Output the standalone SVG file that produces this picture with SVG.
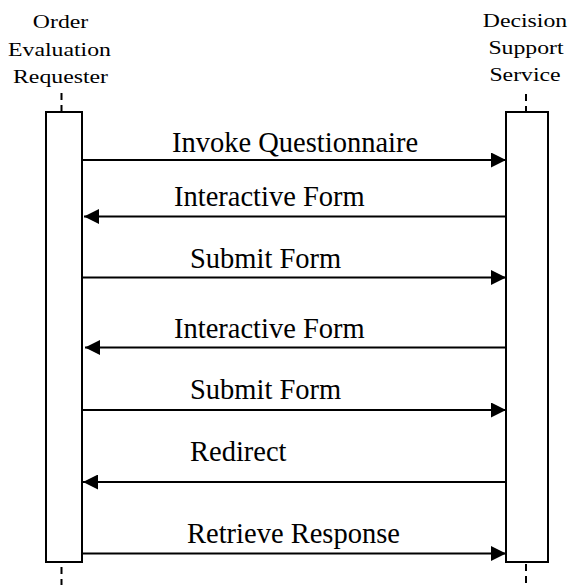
<svg xmlns="http://www.w3.org/2000/svg" width="568" height="585" viewBox="0 0 568 585">
<style>
.lbl{font-family:'Liberation Serif','Times New Roman',serif;font-size:19px;fill:#000;text-anchor:middle}
.msg{font-family:'Liberation Serif','Times New Roman',serif;font-size:28.5px;fill:#000}
.box{fill:#fff;stroke:#000;stroke-width:2}
.life{stroke:#000;stroke-width:2;stroke-dasharray:7 5;fill:none}
.arr{stroke:#000;stroke-width:2;fill:none;marker-end:url(#ah)}
</style>
<defs>
<marker id="ah" viewBox="0 0 15 15" refX="15" refY="7.5" markerWidth="15" markerHeight="15" markerUnits="userSpaceOnUse" orient="auto">
<path d="M0,0 L15,7.5 L0,15 Z" fill="#000"/>
</marker>
</defs>
<rect width="568" height="585" fill="#fff"/>
<g id="requester">
<g transform="translate(60.5,0) scale(1.25,1)">
<text class="lbl" x="0" y="28">Order</text>
<text class="lbl" x="-0.8" y="56">Evaluation</text>
<text class="lbl" x="0" y="83">Requester</text>
</g>
<line class="life" x1="61.5" y1="93" x2="61.5" y2="112"/>
<line class="life" x1="61.5" y1="567" x2="61.5" y2="585"/>
<rect class="box" x="46" y="112" width="36" height="450"/>
</g>
<g id="service">
<g transform="translate(525,0) scale(1.25,1)">
<text class="lbl" x="0" y="27">Decision</text>
<text class="lbl" x="0.8" y="54">Support</text>
<text class="lbl" x="0" y="81">Service</text>
</g>
<line class="life" x1="526" y1="94" x2="526" y2="112"/>
<line class="life" x1="526" y1="564" x2="526" y2="585"/>
<rect class="box" x="506" y="112" width="42" height="450"/>
</g>
<g id="connectors">
<line class="arr" x1="83" y1="160" x2="506" y2="160"/>
<line class="arr" x1="505" y1="216.5" x2="84" y2="216.5"/>
<line class="arr" x1="83" y1="277.5" x2="506" y2="277.5"/>
<line class="arr" x1="505" y1="347.5" x2="85" y2="347.5"/>
<line class="arr" x1="83" y1="410" x2="506" y2="410"/>
<line class="arr" x1="505" y1="482" x2="83" y2="482"/>
<line class="arr" x1="83" y1="553.5" x2="506" y2="553.5"/>
</g>
<g id="labels">
<text class="msg" x="172" y="152">Invoke Questionnaire</text>
<text class="msg" x="174" y="206">Interactive Form</text>
<text class="msg" x="190" y="268">Submit Form</text>
<text class="msg" x="174" y="338">Interactive Form</text>
<text class="msg" x="190" y="398.5">Submit Form</text>
<text class="msg" x="190" y="461">Redirect</text>
<text class="msg" x="187" y="543">Retrieve Response</text>
</g>
</svg>
